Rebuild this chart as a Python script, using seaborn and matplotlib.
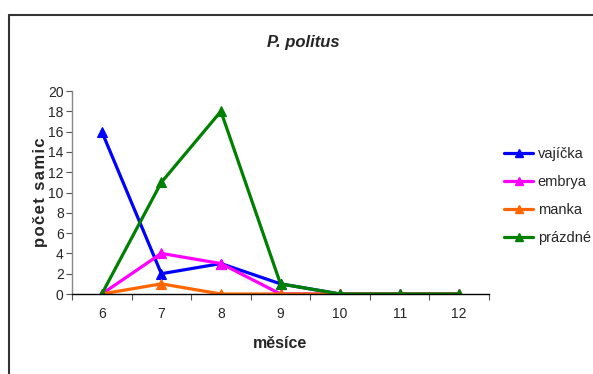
import matplotlib
matplotlib.use("Agg")
import matplotlib.pyplot as plt
from matplotlib.lines import Line2D
import seaborn as sns
import pandas as pd

months = [6, 7, 8, 9, 10, 11, 12]
vajicka = [16, 2, 3, 1, 0, 0, 0]
embrya = [0, 4, 3, 0, 0, 0, 0]
manka = [0, 1, 0, 0, 0, 0, 0]
prazdne = [0, 11, 18, 1, 0, 0, 0]
series_names = ["vajíčka", "embrya", "manka", "prázdné"]
colors = ["#0000FF", "#FF00FF", "#FF6600", "#008000"]

rows = []
for name, vals in zip(series_names, [vajicka, embrya, manka, prazdne]):
    for m, v in zip(months, vals):
        rows.append({"měsíce": m, "počet samic": v, "skupina": name})
df = pd.DataFrame(rows)

sns.set_style("white")
plt.rcParams["font.family"] = ["Liberation Sans", "DejaVu Sans"]

fig = plt.figure(figsize=(5.93, 3.74), dpi=100)
ax = fig.add_axes([72 / 593, 1 - 294 / 374, (489 - 72) / 593, (294 - 91) / 374])

sns.lineplot(data=df, x="měsíce", y="počet samic", hue="skupina",
             hue_order=series_names, palette=colors, marker="^",
             markersize=6.5, linewidth=2.3, ax=ax, legend=False)
# solid triangles in the line colour
for line in ax.lines:
    line.set_markeredgecolor(line.get_color())
    line.set_markerfacecolor(line.get_color())
    line.set_markeredgewidth(0.8)

ax.set_xlim(5.5, 12.5)
ax.set_ylim(0, 20)
ax.set_xticks(months)
ax.set_xticklabels([str(m) for m in months], fontsize=10)
ax.set_xticks([m - 0.5 for m in months] + [12.5], minor=True)
ax.tick_params(axis="x", which="major", length=0, pad=9)
ax.tick_params(axis="x", which="minor", length=4, width=0.8, direction="out",
               color="#555555", bottom=True)
ax.set_yticks(range(0, 21, 2))
ax.set_yticklabels([str(v) for v in range(0, 21, 2)], fontsize=10)
ax.tick_params(axis="y", length=4, width=0.8, direction="out", left=True,
               color="#555555", pad=2)

for side in ["top", "right"]:
    ax.spines[side].set_visible(False)
ax.spines["left"].set_color("#888888")
ax.spines["left"].set_linewidth(1.0)
ax.spines["bottom"].set_color("black")
ax.spines["bottom"].set_linewidth(1.0)

ax.set_xlabel("měsíce", fontsize=11.5, fontweight="bold", labelpad=11)
ax.set_ylabel("\u200a".join("počet samic"), fontsize=12, fontweight="bold",
              labelpad=0)
fig.text(303 / 593, 1 - 42 / 374, "P. politus", fontsize=12, fontweight="bold",
         style="italic", ha="center", va="center")

handles = [Line2D([], [], color=c, marker="^", markersize=5.5, linewidth=2.3)
           for c in colors]
fig.legend(handles, series_names, loc="upper left",
           bbox_to_anchor=(491 / 593, 1 - 134 / 374), frameon=False,
           fontsize=10.5, handlelength=2.0, handletextpad=0.3,
           labelspacing=0.95)

# outer frame around the chart area
fig.add_artist(Line2D([8.5 / 593, 8.5 / 593], [0, 1 - 14.5 / 374],
                      transform=fig.transFigure, color="#333333", linewidth=1.5))
fig.add_artist(Line2D([8.5 / 593, 1], [1 - 14.5 / 374, 1 - 14.5 / 374],
                      transform=fig.transFigure, color="#333333", linewidth=1.5))

fig.savefig("out.png", dpi=100)
